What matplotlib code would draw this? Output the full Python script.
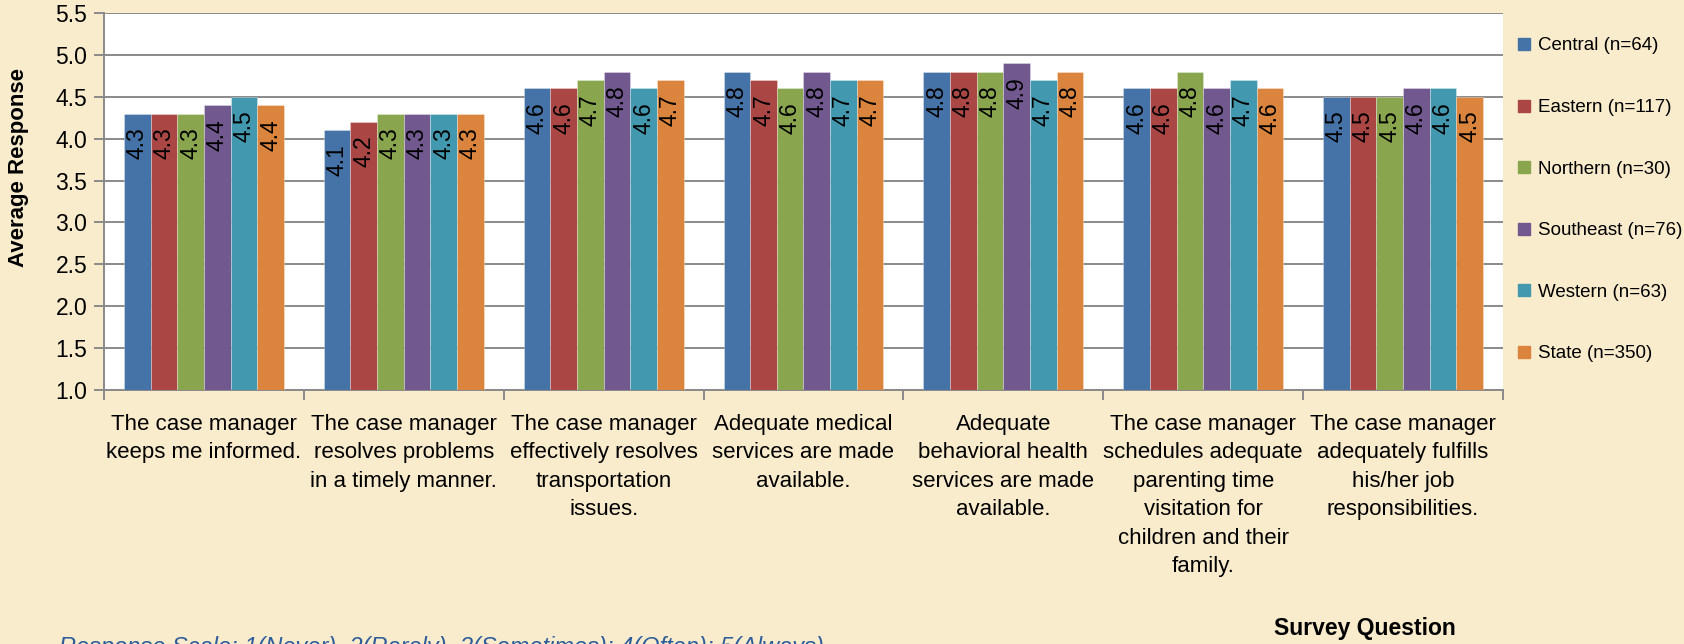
import matplotlib
matplotlib.use("Agg")
import matplotlib.pyplot as plt
from matplotlib.lines import Line2D
import numpy as np

plt.rcParams['font.family'] = ['Liberation Sans', 'DejaVu Sans']

categories = [
    "The case manager\nkeeps me informed.",
    "The case manager\nresolves problems\nin a timely manner.",
    "The case manager\neffectively resolves\ntransportation\nissues.",
    "Adequate medical\nservices are made\navailable.",
    "Adequate\nbehavioral health\nservices are made\navailable.",
    "The case manager\nschedules adequate\nparenting time\nvisitation for\nchildren and their\nfamily.",
    "The case manager\nadequately fulfills\nhis/her job\nresponsibilities.",
]
series_names = ["Central (n=64)", "Eastern (n=117)", "Northern (n=30)",
                "Southeast (n=76)", "Western (n=63)", "State (n=350)"]
central   = [4.3, 4.1, 4.6, 4.8, 4.8, 4.6, 4.5]
eastern   = [4.3, 4.2, 4.6, 4.7, 4.8, 4.6, 4.5]
northern  = [4.3, 4.3, 4.7, 4.6, 4.8, 4.8, 4.5]
southeast = [4.4, 4.3, 4.8, 4.8, 4.9, 4.6, 4.6]
western   = [4.5, 4.3, 4.6, 4.7, 4.7, 4.7, 4.6]
state     = [4.4, 4.3, 4.7, 4.7, 4.8, 4.6, 4.5]
series_values = [central, eastern, northern, southeast, western, state]
colors = ["#4572A7", "#AA4643", "#89A54E", "#71588F", "#4198AF", "#DB843D"]
y_ticks = [1.0, 1.5, 2.0, 2.5, 3.0, 3.5, 4.0, 4.5, 5.0, 5.5]

bg = "#F9ECCD"
grid_c = "#8A8A8A"

fig = plt.figure(figsize=(16.84, 6.44), dpi=100, facecolor=bg)
ax = fig.add_axes([104/1684, 1-390/644, (1503-104)/1684, (390-13)/644])
ax.set_facecolor("white")

n = len(series_values)
w = 0.8 / n
x = np.arange(len(categories))
for j, (name, vals, c) in enumerate(zip(series_names, series_values, colors)):
    pos = x + (j - (n - 1) / 2) * w
    ax.bar(pos, vals, width=w, color=c, edgecolor=(1, 1, 1, 0.35), linewidth=0.6,
           label=name, zorder=3)
    for px, v in zip(pos, vals):
        ax.annotate(f"{v:.1f}", xy=(px, v), xytext=(0, -10), textcoords="offset points",
                    rotation=90, ha="center", va="top", fontsize=16.5, color="black",
                    zorder=4)

ax.set_ylim(1.0, 5.5)
ax.set_xlim(-0.5, len(categories) - 0.5)
ax.set_yticks(y_ticks)
ax.set_yticklabels([f"{t:.1f}" for t in y_ticks], fontsize=16.5)
ax.yaxis.grid(True, color=grid_c, linewidth=1.4, zorder=0)
ax.set_axisbelow(True)

ax.set_xticks(x)
ax.set_xticklabels(categories, fontsize=16, linespacing=1.47)
ax.set_xticks(np.arange(-0.5, len(categories)), minor=True)
ax.tick_params(axis="x", which="major", length=0, pad=17)
ax.tick_params(axis="x", which="minor", length=7, color=grid_c, width=1.4)
ax.tick_params(axis="y", length=7, color=grid_c, width=1.4, pad=5)

for s in ["top", "right"]:
    ax.spines[s].set_visible(False)
for s in ["left", "bottom"]:
    ax.spines[s].set_color(grid_c)
    ax.spines[s].set_linewidth(1.4)

fig.text(19/1684, 1-167/644, "Average Response", rotation=90, ha="center", va="center",
         fontsize=16, fontweight="bold")
fig.text(1365/1684, 1-628/644, "Survey Question", ha="center", va="center",
         fontsize=16.5, fontweight="bold")
fig.text(59/1684, 1-636/644,
         "Response Scale: 1(Never), 2(Rarely), 3(Sometimes); 4(Often); 5(Always)",
         ha="left", va="top", fontsize=17, style="italic", color="#2E5C9A")

handles = [Line2D([0], [0], marker="s", linestyle="none", markersize=8.6,
                  markerfacecolor=c, markeredgecolor=c) for c in colors]
fig.legend(handles, series_names, loc="upper left",
           bbox_to_anchor=(1508/1684, 1-28/644), frameon=False, fontsize=13.5,
           labelspacing=2.37, handlelength=0.7, handletextpad=0.4, borderpad=0)

fig.savefig("out.png", dpi=100, facecolor=bg)
